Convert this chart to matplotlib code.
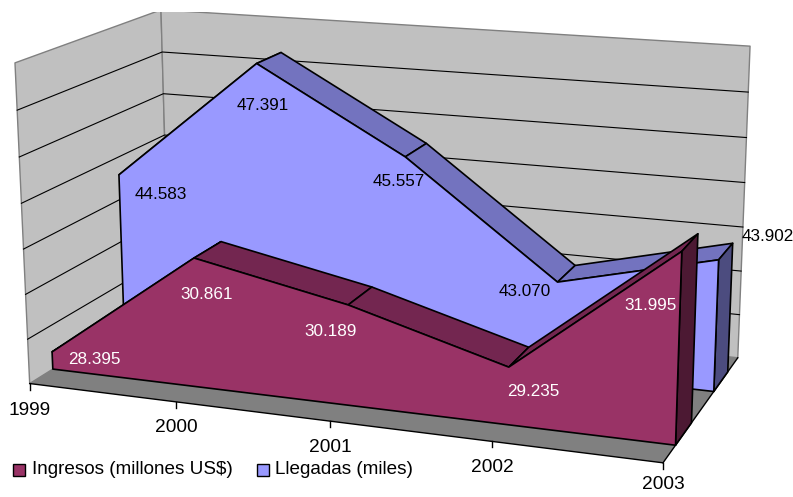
import matplotlib
matplotlib.use("Agg")
import matplotlib.pyplot as plt
from matplotlib.patches import Polygon, Rectangle
import numpy as np

# Data
years = ["1999", "2000", "2001", "2002", "2003"]
ingresos = [28.395, 30.861, 30.189, 29.235, 31.995]
llegadas = [44.583, 47.391, 45.557, 43.070, 43.902]
ingresos_labels = ["28.395", "30.861", "30.189", "29.235", "31.995"]
llegadas_labels = ["44.583", "47.391", "45.557", "43.070", "43.902"]

# each series sits on its own baseline, the axis spans 7 units
ingresos_base = 28.0
llegadas_base = 41.0
axis_span = 7

W, H = 793, 497
TOP_CUT = 12

# 3D box corners and category ticks (u along years, w depth, v height) -> pixels
calib = [
    ((0, 0, 0), (30, 382)), ((1, 0, 0), (663, 465)), ((1, 1, 0), (738, 355)),
    ((0, 1, 0), (169, 299)), ((0, 0, 1), (15, 63)), ((0, 1, 1), (161, 9)),
    ((1, 1, 1), (750, 47)), ((0.25, 0, 0), (176, 401)),
    ((0.5, 0, 0), (331, 421)), ((0.75, 0, 0), (492, 442)),
]
rows = []
for (u, w, v), (px, py) in calib:
    px, py = px / 800, py / 800
    rows.append([u, w, v, 1, 0, 0, 0, 0, -px * u, -px * w, -px * v, -px])
    rows.append([0, 0, 0, 0, u, w, v, 1, -py * u, -py * w, -py * v, -py])
P = np.linalg.svd(np.array(rows))[2][-1].reshape(3, 4)


def proj(u, w, v):
    q = P @ np.array([u, w, v, 1.0])
    return q[0] / q[2] * 800, q[1] / q[2] * 800


fig = plt.figure(figsize=(W / 100, H / 100), dpi=100)
ax = fig.add_axes([0, 0, 1, (H - TOP_CUT) / H])
ax.set_xlim(0, W)
ax.set_ylim(H, TOP_CUT)
ax.axis("off")
plt.rcParams["font.family"] = ["Liberation Sans", "DejaVu Sans"]

WALL = "#C0C0C0"
FLOOR = "#808080"


def poly(pts, fc, ec="black", lw=1.2, z=1):
    ax.add_patch(Polygon([proj(*p) for p in pts], closed=True, fc=fc, ec=ec, lw=lw, zorder=z, joinstyle="round"))


# walls and floor
poly([(0, 0, 0), (0, 1, 0), (0, 1, 1), (0, 0, 1)], WALL, ec="#808080", lw=1.0)
poly([(0, 1, 0), (1, 1, 0), (1, 1, 1), (0, 1, 1)], WALL, ec="#808080", lw=1.0)
poly([(0, 0, 0), (1, 0, 0), (1, 1, 0), (0, 1, 0)], FLOOR, ec="none", lw=0)

# gridlines
for k in range(1, axis_span):
    line = [proj(0, 0, k / axis_span), proj(0, 1, k / axis_span), proj(1, 1, k / axis_span)]
    ax.plot(*zip(*line), color="black", lw=0.8, zorder=1.5)

# floor edges and ticks
for a, b in [((0, 0, 0), (1, 0, 0)), ((1, 0, 0), (1, 1, 0))]:
    ax.plot(*zip(proj(*a), proj(*b)), color="black", lw=1.0, zorder=1.6)
n = len(years)
label_drop = [27, 26, 26, 26, 22]
for i, y in enumerate(years):
    x0, y0 = proj(i / (n - 1), 0, 0)
    ax.plot([x0, x0], [y0, y0 + 6], color="black", lw=1.0, zorder=1.6)
    ax.text(x0, y0 + label_drop[i], y, fontsize=13.8, ha="center", va="center", color="black")


def area(values, base, w0, w1, front, top, side, z):
    us = [i / (n - 1) for i in range(n)]
    vs = [(val - base) / axis_span for val in values]
    # top strips first, the front face then covers the ones facing away
    for i in range(n - 1):
        poly([(us[i], w0, vs[i]), (us[i + 1], w0, vs[i + 1]), (us[i + 1], w1, vs[i + 1]), (us[i], w1, vs[i])], top, z=z)
    poly([(1, w0, 0), (1, w1, 0), (1, w1, vs[-1]), (1, w0, vs[-1])], side, z=z + 0.1)
    pts = [(us[0], w0, 0)] + [(u, w0, v) for u, v in zip(us, vs)] + [(1, w0, 0)]
    poly(pts, front, z=z + 0.2)


area(llegadas, llegadas_base, 0.65, 0.85, "#9999FF", "#7373BF", "#4C4C7F", 2)
area(ingresos, ingresos_base, 0.15, 0.35, "#993366", "#732650", "#4C1933", 3)

# data labels, offset from the front top corner of each point
llegadas_off = [(42, 20), (6, 42), (-6, 25), (-33, 9), (49, -23)]
ingresos_off = [(42, 8), (13, 36), (-18, 27), (24, 24), (-31, 54)]


def labels(values, base, w0, texts, offs, color):
    for i, (val, t, (dx, dy)) in enumerate(zip(values, texts, offs)):
        x0, y0 = proj(i / (n - 1), w0, (val - base) / axis_span)
        ax.text(x0 + dx, y0 + dy, t, fontsize=12.3, ha="center", va="center", color=color, zorder=6)


labels(llegadas, llegadas_base, 0.65, llegadas_labels, llegadas_off, "black")
labels(ingresos, ingresos_base, 0.15, ingresos_labels, ingresos_off, "white")

# legend
for x0, fc, x1, name in [(13, "#993366", 32, "Ingresos (millones US$)"), (257, "#9999FF", 275, "Llegadas (miles)")]:
    ax.add_patch(Rectangle((x0, 464), 12, 12.5, fc=fc, ec="black", lw=1.0, zorder=7))
    ax.text(x1, 470, name, fontsize=13.6, ha="left", va="center", color="black", zorder=7)

fig.savefig("out.png", dpi=100)
